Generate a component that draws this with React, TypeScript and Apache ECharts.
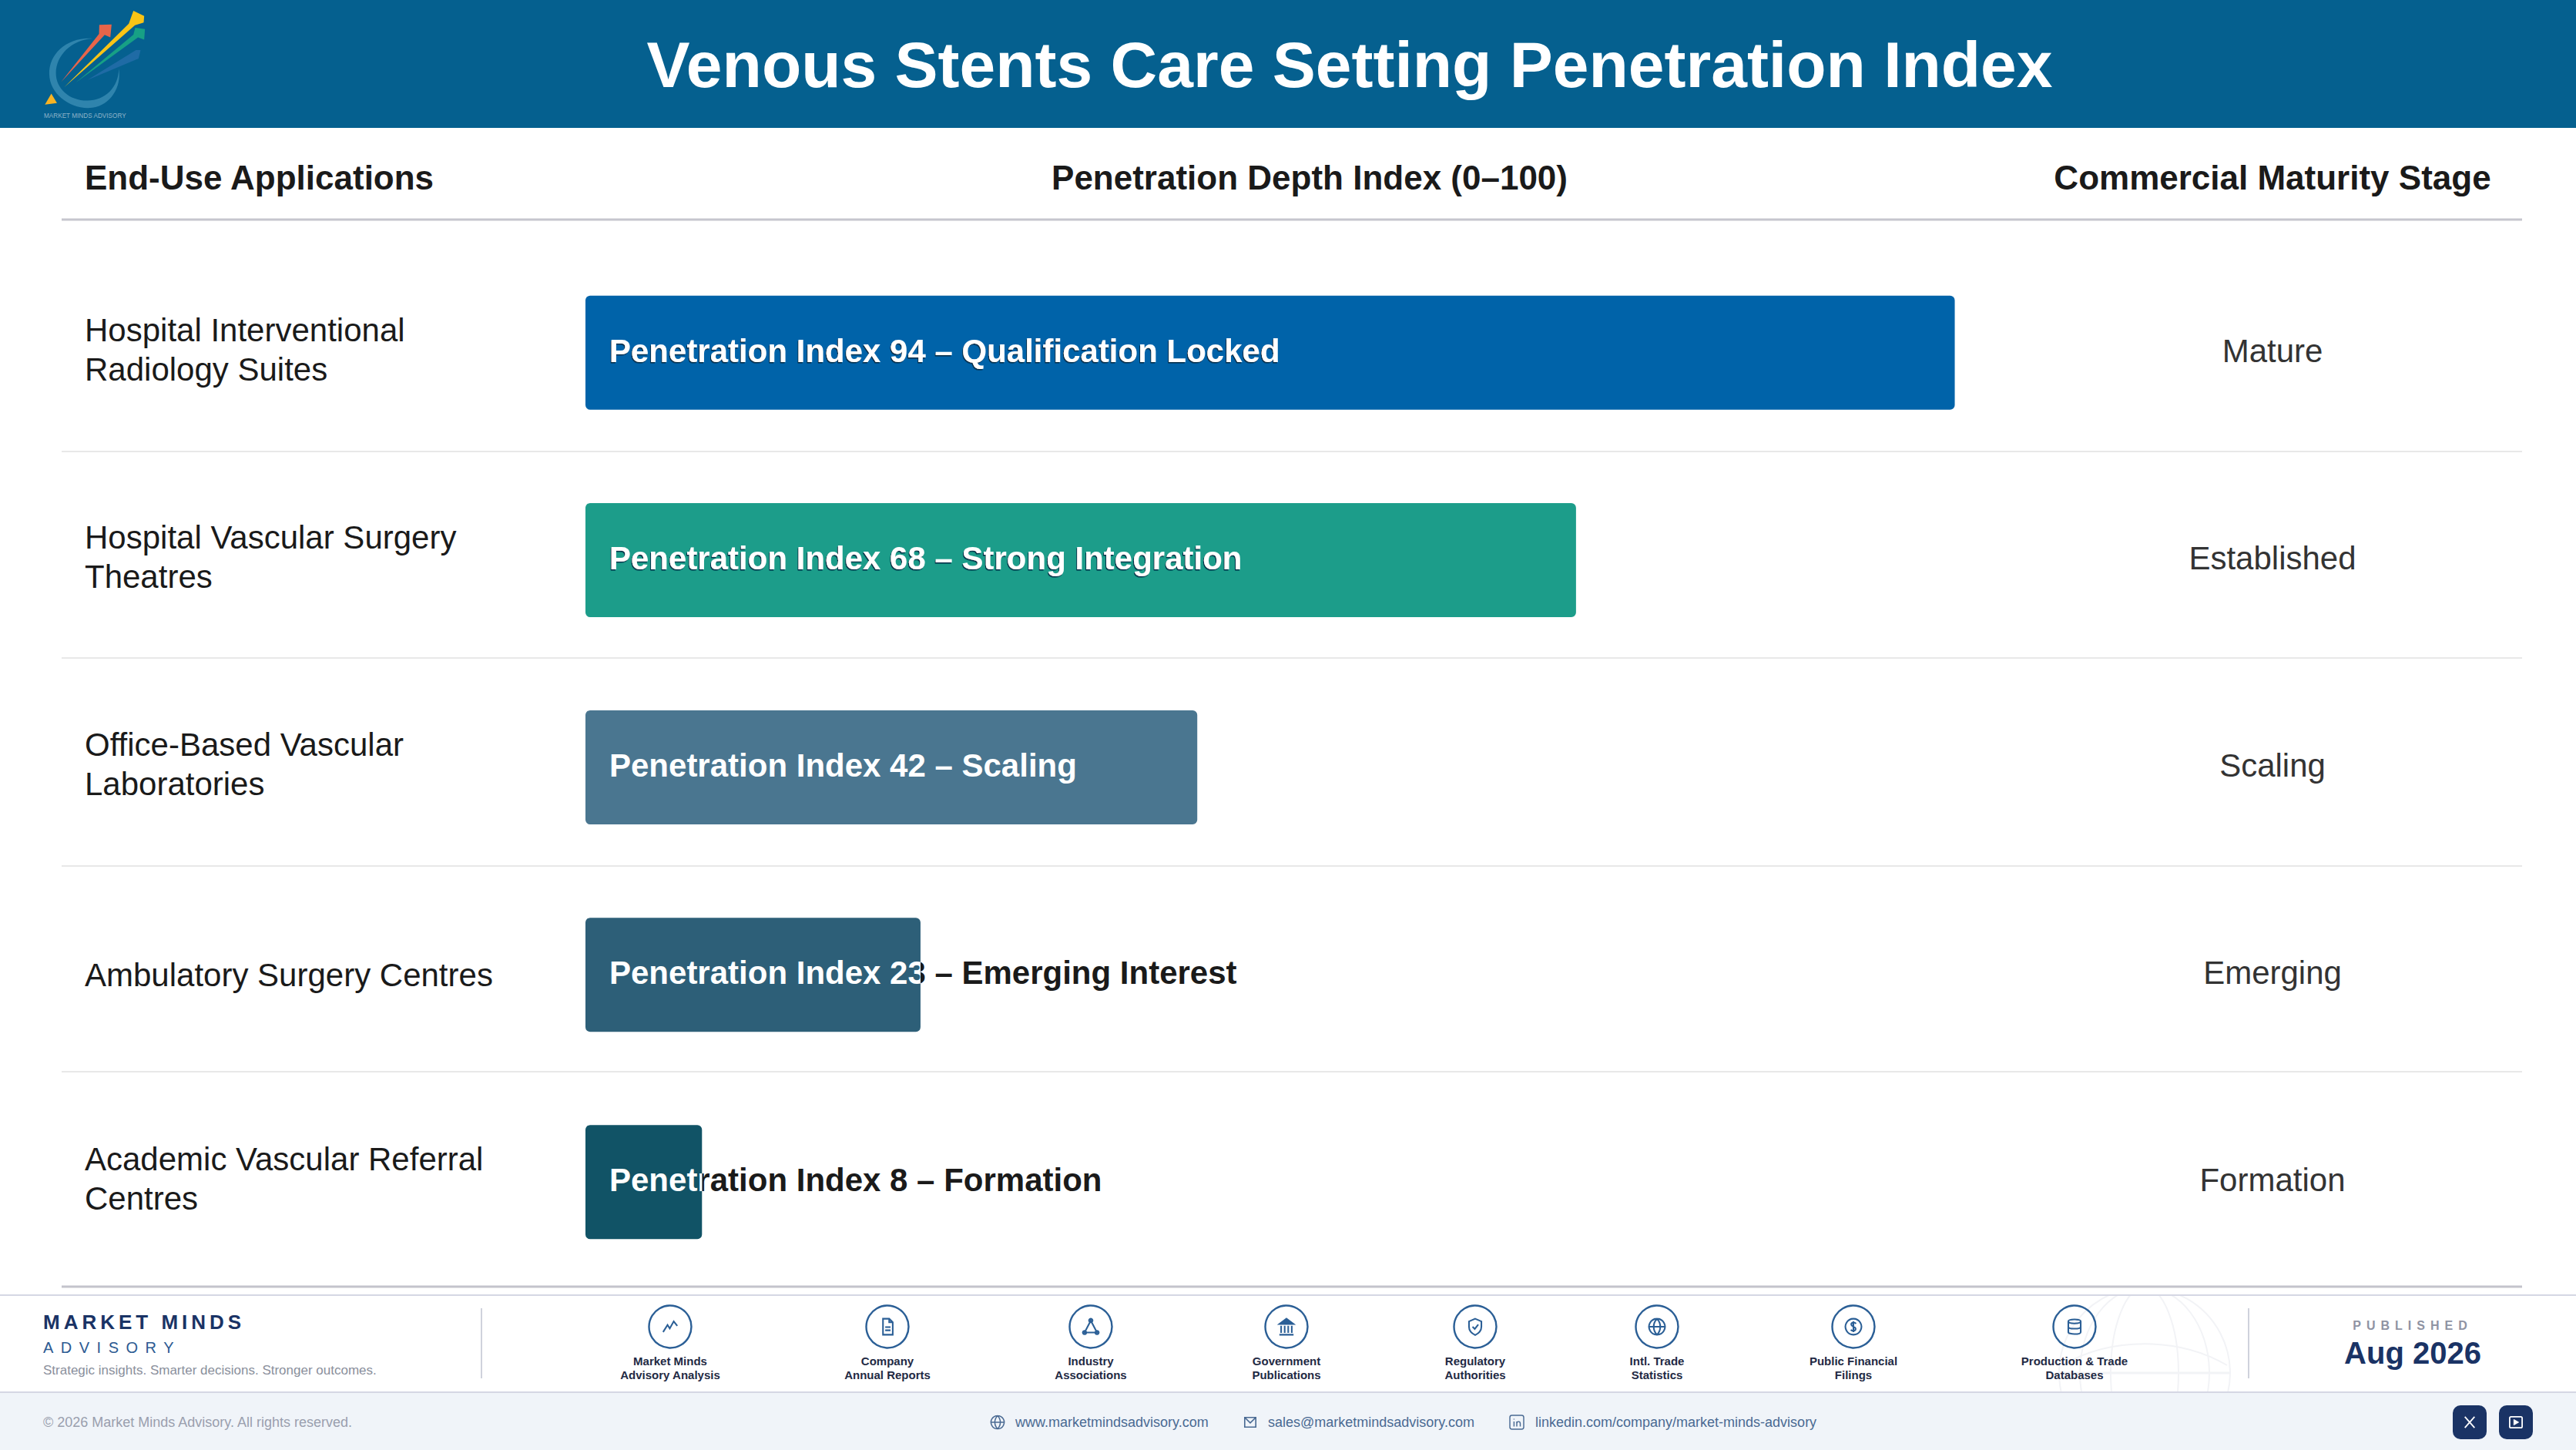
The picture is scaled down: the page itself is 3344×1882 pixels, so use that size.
import React, { useEffect, useRef } from 'react';
import * as echarts from 'echarts';

const applications = [
  'Hospital Interventional\nRadiology Suites',
  'Hospital Vascular Surgery\nTheatres',
  'Office-Based Vascular\nLaboratories',
  'Ambulatory Surgery Centres',
  'Academic Vascular Referral\nCentres',
];
const penetrationIndex = [94, 68, 42, 23, 8];
const barColors = ['#0063a9', '#1c9d8a', '#4a7690', '#2d5f78', '#115366'];
const maturityStages = ['Mature', 'Established', 'Scaling', 'Emerging', 'Formation'];
const barLabels = [
  'Penetration Index 94 – Qualification Locked',
  'Penetration Index 68 – Strong Integration',
  'Penetration Index 42 – Scaling',
  'Penetration Index 23 – Emerging Interest',
  'Penetration Index 8 – Formation',
];
// the part of each label that sits on top of its bar, in white
const labelsOnBar = [barLabels[0], barLabels[1], barLabels[2], 'Penetration Index 23', 'Penetr'];

const sources = [
  ['Market Minds', 'Advisory Analysis'],
  ['Company', 'Annual Reports'],
  ['Industry', 'Associations'],
  ['Government', 'Publications'],
  ['Regulatory', 'Authorities'],
  ['Intl. Trade', 'Statistics'],
  ['Public Financial', 'Filings'],
  ['Production & Trade', 'Databases'],
];
const sourceX = [870, 1152, 1416, 1670, 1915, 2151, 2406, 2693];
const sourceIcons = ['i-chart', 'i-doc', 'i-nodes', 'i-bank', 'i-shield', 'i-globe', 'i-coin', 'i-db'];

const FONT = '"Liberation Sans"';
const NAVY = '#1a3365';
const ICON = '#2b5f96';
const GLOBE = '#f2f3f6';

const shapes: Record<string, string> = {
  'i-chart': 'M4 18 L9 10 L11.5 14 L16 6 L20 11',
  'i-doc': 'M7 3 H14 L18 7 V21 H7 Z M14 3 V7 H18 M9.5 12.5 H15.5 M9.5 16 H15.5',
  'i-nodes': 'M12 5 L5 18.5 H19 Z M12 3 a2 2 0 1 0 .01 0 Z M5 16.5 a2 2 0 1 0 .01 0 Z M19 16.5 a2 2 0 1 0 .01 0 Z',
  'i-bank': 'M12 3 L20 9 H4 Z M6 11 V19 M10 11 V19 M14 11 V19 M18 11 V19 M4 21 H20',
  'i-shield': 'M12 3 L19 6 V12 C19 17 15 20 12 21.5 C9 20 5 17 5 12 V6 Z M9 12 L11.5 14.5 L15.5 9.5',
  'i-globe': 'M12 3 a9 9 0 1 0 .01 0 Z M3 12 H21 M12 3 C7 8 7 16 12 21 C17 16 17 8 12 3 Z',
  'i-coin': 'M12 3 a9 9 0 1 0 .01 0 Z M15 8.5 C13 6.5 9.5 7 9.5 9.5 C9.5 12 14.5 11.5 14.5 14.5 C14.5 17 11 17.5 9 15.5 M12 6 V18',
  'i-db': 'M5 6 C5 3 19 3 19 6 V18 C19 21 5 21 5 18 Z M5 6 C5 9 19 9 19 6 M5 12 C5 15 19 15 19 12',
  'i-mail': 'M4 5 H20 V19 H4 Z M4 5 L12 13 L20 5',
  'i-in': 'M5 2 H19 Q22 2 22 5 V19 Q22 22 19 22 H5 Q2 22 2 19 V5 Q2 2 5 2 Z M8 11 V18 M8 7 V8 M12 18 V11 M12 14 C12 10 17 10 17 14 V18',
  'i-x': 'M5 4 L19 20 M19 4 L5 20',
  'i-yt': 'M5 4 H19 Q21 4 21 6 V18 Q21 20 19 20 H5 Q3 20 3 18 V6 Q3 4 5 4 Z',
  'i-play': 'M9 8 L16 12 L9 16 Z',
  'logo-red': 'M148 320 L296 132 L297 97 L345 95 L340 146 L318 136 Z',
  'logo-yellow': 'M160 340 L412 92 L430 42 L472 62 L470 88 L436 98 Z',
  'logo-green': 'M205 322 L430 135 L437 108 L475 113 L472 155 L448 146 Z',
  'logo-blue': 'M250 312 L440 195 L458 195 L450 228 Z',
  'logo-ring': 'M270 150 C170 145 100 210 102 290 C104 370 190 430 270 420 C340 410 385 340 373 268 C372 340 320 392 250 392 C180 392 128 345 128 285 C128 215 190 155 270 150 Z',
  'logo-tip': 'M85 408 L110 365 L132 402 Z',
};
Object.keys(shapes).forEach((name) => {
  echarts.graphic.registerShape(name, echarts.graphic.extendPath(shapes[name], {}));
});

const txt = (
  x: number, y: number, text: string, size: number, fill: string,
  weight: string = 'normal', align: string = 'left', spacing: number = 0,
) => ({
  type: 'text',
  x,
  y,
  style: {
    text,
    fill,
    fontSize: size,
    fontWeight: weight,
    // letter-spacing goes along in the svg style attribute
    fontFamily: spacing ? `${FONT};letter-spacing:${spacing}px` : FONT,
    textAlign: align,
    textVerticalAlign: 'middle',
  },
});
const rect = (x: number, y: number, width: number, height: number, fill: string, r: number = 0) => ({
  type: 'rect',
  shape: { x, y, width, height, r },
  style: { fill },
});
const icon = (name: string, cx: number, cy: number, s: number, stroke: string, lineWidth: number, fill: string = 'none') => ({
  type: name,
  x: cx - 12 * s,
  y: cy - 12 * s,
  scaleX: s,
  scaleY: s,
  style: { fill, stroke, lineWidth },
});
const logoPart = (name: string, fill: string, opacity: number = 1) => ({
  type: name,
  x: 30,
  y: 0,
  scaleX: 1 / 3,
  scaleY: 1 / 3,
  style: { fill, opacity },
});
const hLine = (y: number, x1: number, x2: number, stroke: string, lineWidth: number) => ({
  type: 'line',
  shape: { x1, y1: y, x2, y2: y },
  style: { stroke, lineWidth },
});
const vLine = (x: number, y1: number, y2: number, stroke: string, lineWidth: number) => ({
  type: 'line',
  shape: { x1: x, y1, x2: x, y2 },
  style: { stroke, lineWidth },
});
const globeEllipse = (rx: number) => ({
  type: 'ellipse',
  shape: { cx: 2784, cy: 1782, rx, ry: 111 },
  style: { fill: 'none', stroke: GLOBE, lineWidth: 2 },
});

const decorations = () => {
  const out: any[] = [
    rect(0, 0, 3344, 166, '#05608f'),
    logoPart('logo-blue', '#1f6ba5'),
    logoPart('logo-ring', '#2f84ad'),
    logoPart('logo-red', '#e8654a'),
    logoPart('logo-green', '#17a085'),
    logoPart('logo-yellow', '#f9c416'),
    logoPart('logo-tip', '#f8b323'),
    txt(57, 150, 'MARKET MINDS ADVISORY', 8.2, '#8fb4c9'),

    txt(110, 230, 'End-Use Applications', 44, '#1a1a1a', 'bold'),
    txt(1700, 230, 'Penetration Depth Index (0–100)', 44, '#1a1a1a', 'bold', 'center'),
    txt(2950, 230, 'Commercial Maturity Stage', 44, '#1a1a1a', 'bold', 'center'),
    hLine(285, 80, 3274, '#c6c6ce', 3),
    hLine(586, 80, 3274, '#e8e8e8', 2),
    hLine(854, 80, 3274, '#e8e8e8', 2),
    hLine(1124, 80, 3274, '#e8e8e8', 2),
    hLine(1391, 80, 3274, '#e8e8e8', 2),
    hLine(1670, 80, 3274, '#c4c4cc', 3),

    // footer
    { type: 'circle', shape: { cx: 2784, cy: 1782, r: 111 }, style: { fill: 'none', stroke: GLOBE, lineWidth: 2 } },
    globeEllipse(44),
    globeEllipse(84),
    hLine(1782, 2673, 2895, GLOBE, 3),
    {
      type: 'bezierCurve',
      shape: { x1: 2677, y1: 1772, cpx1: 2740, cpy1: 1735, cpx2: 2828, cpy2: 1735, x2: 2891, y2: 1772 },
      style: { fill: 'none', stroke: GLOBE, lineWidth: 2 },
    },
    rect(2600, 1665, 400, 16, '#ffffff'),
    hLine(1670, 2600, 3000, '#c4c4cc', 3),
    hLine(1681, 0, 3344, '#d5d7e4', 2),
    rect(0, 1808, 3344, 74, '#f0f4f9'),
    hLine(1807, 0, 3344, '#d5d7e4', 2),

    txt(56, 1716, 'MARKET MINDS', 26, NAVY, 'bold', 'left', 5),
    txt(56, 1749, 'ADVISORY', 20, '#2c5a92', 'normal', 'left', 9.5),
    txt(56, 1778, 'Strategic insights. Smarter decisions. Stronger outcomes.', 17, '#8a8f9c'),
    vLine(625, 1698, 1789, '#cfd2dc', 2),
    vLine(2919, 1698, 1789, '#cfd2dc', 2),
    txt(3132, 1720, 'PUBLISHED', 16, '#8f93a3', 'bold', 'center', 7),
    txt(3132, 1756, 'Aug 2026', 40, NAVY, 'bold', 'center'),

    txt(56, 1846, '© 2026 Market Minds Advisory. All rights reserved.', 18, '#9a9fae'),
    icon('i-globe', 1295, 1846, 0.95, '#4a6a93', 1.6),
    txt(1318, 1846, 'www.marketmindsadvisory.com', 18, '#4a6a93'),
    icon('i-mail', 1623, 1846, 0.9, '#4a6a93', 1.8),
    txt(1646, 1846, 'sales@marketmindsadvisory.com', 18, '#4a6a93'),
    icon('i-in', 1969, 1846, 0.9, '#4a6a93', 1.6),
    txt(1993, 1846, 'linkedin.com/company/market-minds-advisory', 18, '#4a6a93'),
    rect(3184, 1824, 44, 44, NAVY, 10),
    icon('i-x', 3206, 1846, 0.9, '#ffffff', 2),
    rect(3244, 1824, 44, 44, NAVY, 10),
    icon('i-yt', 3266, 1846, 0.9, '#ffffff', 2),
    icon('i-play', 3266, 1846, 0.9, '#ffffff', 1, '#ffffff'),
  ];
  sources.forEach((lines, i) => {
    const cx = sourceX[i];
    out.push(
      { type: 'circle', shape: { cx, cy: 1722, r: 27.5 }, style: { fill: 'none', stroke: ICON, lineWidth: 2.4 } },
      icon(sourceIcons[i], cx, 1722, 1.15, ICON, 1.8, sourceIcons[i] === 'i-bank' ? ICON : 'none'),
      txt(cx, 1766.5, lines[0], 15, '#1f2a44', 'bold', 'center'),
      txt(cx, 1784.5, lines[1], 15, '#1f2a44', 'bold', 'center'),
    );
  });
  return out;
};

// bar label, white on the bar and dark past its end
const renderBarLabel = (params: any, api: any) => {
  const i = api.value(1);
  const start = api.coord([0, i]);
  const end = api.coord([api.value(0), i]);
  const shadow = i < 2 ? { textShadowColor: '#062a45', textShadowOffsetX: -1, textShadowOffsetY: 1.5, textShadowBlur: 0.5 } : {};
  const textEl = (text: string, fill: string, extra: any = {}) => ({
    type: 'text',
    x: start[0] + 31,
    y: start[1] - 2.5,
    style: {
      text,
      fill,
      fontSize: 42,
      fontWeight: 'bold',
      fontFamily: FONT,
      textAlign: 'left',
      textVerticalAlign: 'middle',
      ...extra,
    },
  });
  const h = 148;
  const children: any[] = [];
  if (labelsOnBar[i] !== barLabels[i]) {
    children.push({
      type: 'group',
      clipPath: { type: 'rect', shape: { x: end[0], y: start[1] - h / 2, width: 2000, height: h } },
      children: [textEl(barLabels[i], '#1a1a1a')],
    });
  }
  children.push({
    type: 'group',
    clipPath: { type: 'rect', shape: { x: start[0], y: start[1] - h / 2, width: end[0] - start[0], height: h } },
    children: [textEl(labelsOnBar[i], '#ffffff', shadow)],
  });
  return { type: 'group', children };
};

// an empty last line lifts a label a little above the middle of its row
const liftTwoLines = (value: string) => {
  const lines = value.split('\n');
  return lines.length > 1 ? lines.map((l) => `{a|${l}}`).join('\n') + '\n{s|}' : `{a|${value}}`;
};
const liftStage = (value: string) => `{a|${value}}\n{s|}`;

const App: React.FC = () => {
  const chartRef = useRef<HTMLDivElement | null>(null);

  useEffect(() => {
    if (chartRef.current) {
      const chart = echarts.init(chartRef.current, null, { renderer: 'svg' });

      chart.setOption({
        animation: false,
        backgroundColor: '#ffffff',
        title: {
          text: 'Venous Stents Care Setting Penetration Index',
          left: 1747,
          top: 79,
          textAlign: 'center',
          textVerticalAlign: 'middle',
          textStyle: { color: '#ffffff', fontSize: 84, fontWeight: 'bold', fontFamily: FONT },
        },
        grid: { left: 760, width: 1891, top: 323.3, height: 1345.5 },
        xAxis: { type: 'value', min: 0, max: 100, show: false },
        yAxis: [
          {
            type: 'category',
            inverse: true,
            data: applications,
            axisLine: { show: false },
            axisTick: { show: false },
            axisLabel: {
              margin: 650,
              align: 'left',
              formatter: liftTwoLines,
              rich: {
                a: { color: '#1a1a1a', fontSize: 42, lineHeight: 51, fontFamily: FONT, align: 'left' },
                s: { fontSize: 1, lineHeight: 8 },
              },
            },
          },
          {
            type: 'category',
            inverse: true,
            position: 'right',
            data: maturityStages,
            axisLine: { show: false },
            axisTick: { show: false },
            axisLabel: {
              margin: 299,
              align: 'center',
              formatter: liftStage,
              rich: {
                a: { color: '#333333', fontSize: 42, lineHeight: 48, fontFamily: FONT, align: 'center' },
                s: { fontSize: 1, lineHeight: 5 },
              },
            },
          },
        ],
        graphic: { elements: decorations() },
        series: [
          {
            name: 'Penetration Depth Index',
            type: 'bar',
            barWidth: 148,
            data: penetrationIndex.map((value, i) => ({
              value,
              itemStyle: { color: barColors[i], borderRadius: 6 },
            })),
          },
          {
            name: 'Bar labels',
            type: 'custom',
            renderItem: renderBarLabel,
            encode: { x: 0, y: 1 },
            data: penetrationIndex.map((value, i) => [value, i]),
            z: 5,
          },
        ],
      });

      return () => {
        chart.dispose();
      };
    }
  }, []);

  return (
    <div
      ref={chartRef}
      style={{ position: 'absolute', left: 0, top: 0, width: '3344px', height: '1882px' }}
    />
  );
};

export default App;
